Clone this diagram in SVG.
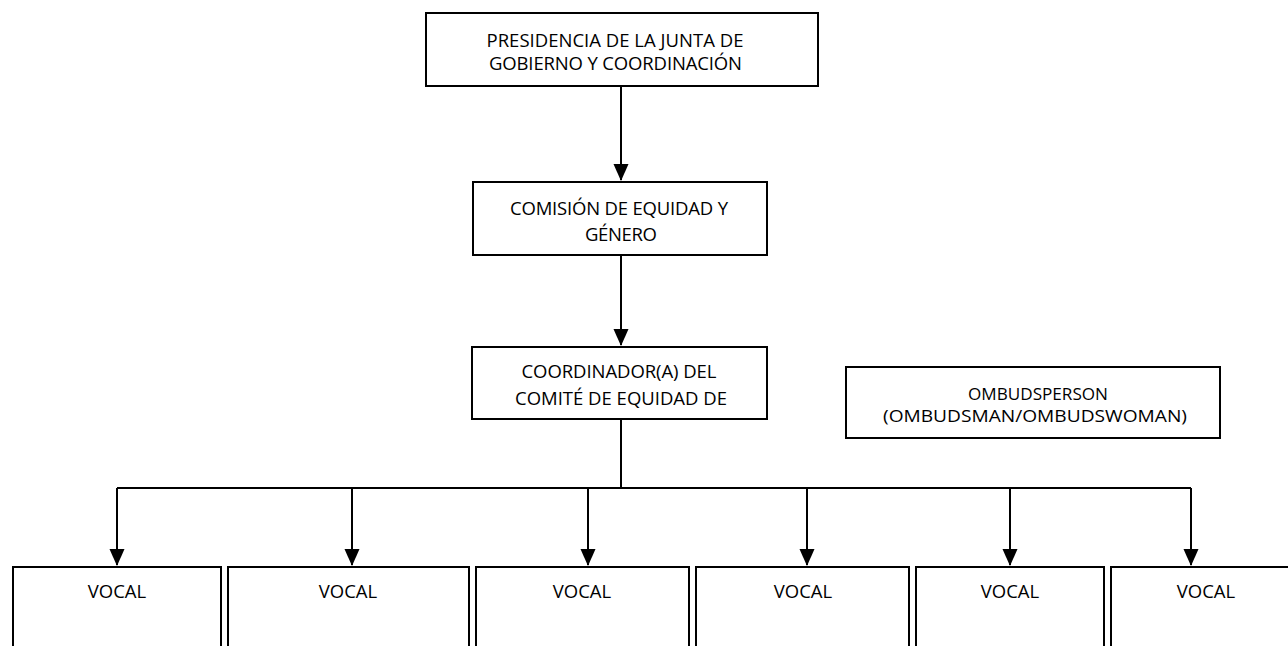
<svg xmlns="http://www.w3.org/2000/svg" width="1288" height="646" viewBox="0 0 1288 646">
<style>
.box{fill:#fff;stroke:#000;stroke-width:2}
.t{font-family:"Open Sans","Liberation Sans",Arial,sans-serif;font-size:18.5px;fill:#000;text-anchor:middle}
.s{font-size:16px}
.c{fill:none;stroke:#000;stroke-width:2}
</style>
<defs>
<marker id="arr" markerUnits="userSpaceOnUse" markerWidth="17" markerHeight="16" refX="16" refY="8" orient="auto" viewBox="0 0 17 16">
<path d="M0,0.5 L17,8 L0,15.5 Z" fill="#000"/>
</marker>
</defs>
<g id="connectors">
<path class="c" d="M621,86 V180" marker-end="url(#arr)"/>
<path class="c" d="M621,255 V345" marker-end="url(#arr)"/>
<path class="c" d="M621,420 V488"/>
<path class="c" d="M117,488 H1191"/>
<path class="c" d="M117,488 V565" marker-end="url(#arr)"/>
<path class="c" d="M352,488 V565" marker-end="url(#arr)"/>
<path class="c" d="M588,488 V565" marker-end="url(#arr)"/>
<path class="c" d="M807,488 V565" marker-end="url(#arr)"/>
<path class="c" d="M1010,488 V565" marker-end="url(#arr)"/>
<path class="c" d="M1191,488 V565" marker-end="url(#arr)"/>
</g>
<g id="presidencia">
<rect class="box" x="426" y="13" width="392" height="73"/>
<text class="t" x="615" y="46.5" textLength="257">PRESIDENCIA DE LA JUNTA DE</text>
<text class="t" x="615.5" y="70" textLength="253">GOBIERNO Y COORDINACIÓN</text>
</g>
<g id="comision">
<rect class="box" x="473" y="182" width="294" height="73"/>
<text class="t" x="619" y="215" textLength="218">COMISIÓN DE EQUIDAD Y</text>
<text class="t" x="621" y="241" textLength="72">GÉNERO</text>
</g>
<g id="coordinador">
<rect class="box" x="472" y="347" width="295" height="72"/>
<text class="t" x="619" y="378" textLength="195">COORDINADOR(A) DEL</text>
<text class="t" x="621" y="405" textLength="212">COMITÉ DE EQUIDAD DE</text>
</g>
<g id="ombudsperson">
<rect class="box" x="846" y="367" width="374" height="71"/>
<text class="t s" x="1038" y="400" textLength="140" lengthAdjust="spacingAndGlyphs">OMBUDSPERSON</text>
<text class="t s" x="1035" y="421.5" textLength="304" lengthAdjust="spacingAndGlyphs">(OMBUDSMAN/OMBUDSWOMAN)</text>
</g>
<g id="vocal1">
<rect class="box" x="13" y="567" width="208" height="100"/>
<text class="t" x="117" y="598">VOCAL</text>
</g>
<g id="vocal2">
<rect class="box" x="228" y="567" width="241" height="100"/>
<text class="t" x="348" y="598">VOCAL</text>
</g>
<g id="vocal3">
<rect class="box" x="476" y="567" width="213" height="100"/>
<text class="t" x="582" y="598">VOCAL</text>
</g>
<g id="vocal4">
<rect class="box" x="696" y="567" width="213" height="100"/>
<text class="t" x="803" y="598">VOCAL</text>
</g>
<g id="vocal5">
<rect class="box" x="916" y="567" width="188" height="100"/>
<text class="t" x="1010" y="598">VOCAL</text>
</g>
<g id="vocal6">
<rect class="box" x="1111" y="567" width="200" height="100"/>
<text class="t" x="1206" y="598">VOCAL</text>
</g>
</svg>
